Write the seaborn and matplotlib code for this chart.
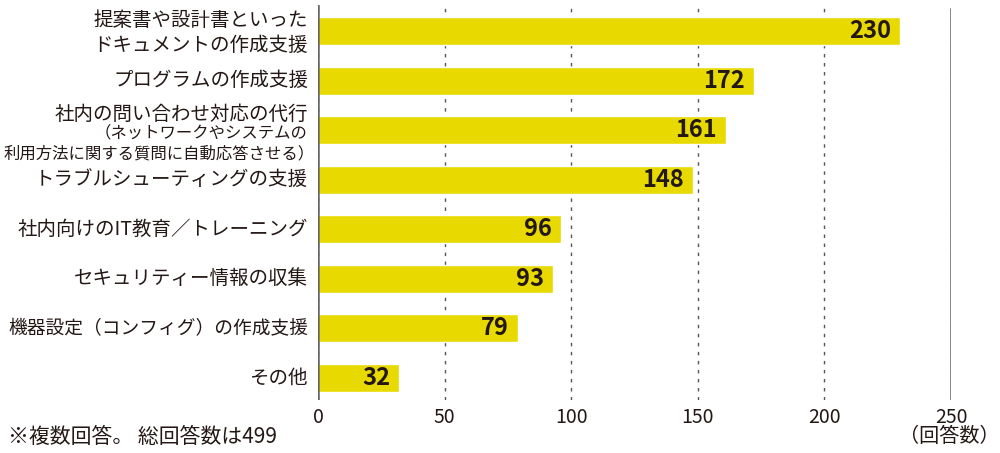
import matplotlib
matplotlib.use("Agg")
import matplotlib.pyplot as plt
import seaborn as sns
import pandas as pd

categories = [
    "提案書や設計書といった\nドキュメントの作成支援",
    "プログラムの作成支援",
    "社内の問い合わせ対応の代行",
    "トラブルシューティングの支援",
    "社内向けのIT教育／トレーニング",
    "セキュリティー情報の収集",
    "機器設定（コンフィグ）の作成支援",
    "その他",
]
sub_label_1 = "（ネットワークやシステムの"
sub_label_2 = "利用方法に関する質問に自動応答させる）"
values = [230, 172, 161, 148, 96, 93, 79, 32]
xticks = [0, 50, 100, 150, 200, 250]
note = "※複数回答。 総回答数は499"
unit = "（回答数）"

sns.set_theme(style="white")
plt.rcParams["font.family"] = ["Noto Sans CJK JP", "DejaVu Sans"]

TXT = "#231815"
BAR = "#E8D900"
LINE = "#555555"

fig = plt.figure(figsize=(10, 4.53), dpi=100)
ax = fig.add_axes([0.318, 0.117, 0.633, 0.872])

df = pd.DataFrame({"cat": categories, "val": values})
sns.barplot(data=df, y="cat", x="val", orient="h", color=BAR, saturation=1,
            width=0.565, ax=ax, zorder=3)

ax.set_xlim(0, 250)
ax.set_ylim(7.444, -0.5245)
ax.set_xticks(xticks)
ax.set_xticklabels([str(t) for t in xticks], fontsize=14, color=TXT)
ax.tick_params(axis="x", length=0, pad=5)
ax.set_yticks([])
ax.set_xlabel("")
ax.set_ylabel("")
for s in ax.spines.values():
    s.set_visible(False)

ax.grid(axis="x", color=LINE, linestyle=(0, (2.5, 4)), linewidth=1, zorder=0)
ax.grid(axis="y", visible=False)
ax.axvline(0, color="#666666", linewidth=1.8, zorder=4)
ax.axvline(250, color="#777777", linewidth=1.2, zorder=4, ymin=0, ymax=0.99)

# value labels
for i, v in enumerate(values):
    ax.annotate(str(v), xy=(v, i), xytext=(-9, 0), textcoords="offset pixels",
                ha="right", va="center", fontsize=17, fontweight="bold",
                color=TXT, zorder=5)

# category labels
for i, c in enumerate(categories):
    if i == 2:
        ax.annotate(c, xy=(0, i), xytext=(-10, 16), textcoords="offset pixels",
                    ha="right", va="center", fontsize=14, color=TXT,
                    annotation_clip=False)
        ax.annotate(sub_label_1, xy=(0, i), xytext=(-10, -3), textcoords="offset pixels",
                    ha="right", va="center", fontsize=11.8, color=TXT,
                    annotation_clip=False)
        ax.annotate(sub_label_2, xy=(0, i), xytext=(-3, -24), textcoords="offset pixels",
                    ha="right", va="center", fontsize=11.8, color=TXT,
                    annotation_clip=False)
    else:
        dy = -2 if "\n" in c else 0
        fs = 13.5 if "（" in c else 14
        ax.annotate(c, xy=(0, i), xytext=(-10, dy), textcoords="offset pixels",
                    ha="right", va="center", fontsize=fs, color=TXT,
                    linespacing=1.22, annotation_clip=False)

fig.text(0.008, 1 - 437 / 453, note, ha="left", va="center", fontsize=15, color=TXT)
fig.text(0.949, 1 - 437 / 453, unit, ha="center", va="center", fontsize=14.5, color=TXT)

fig.savefig("out.png", dpi=100)
